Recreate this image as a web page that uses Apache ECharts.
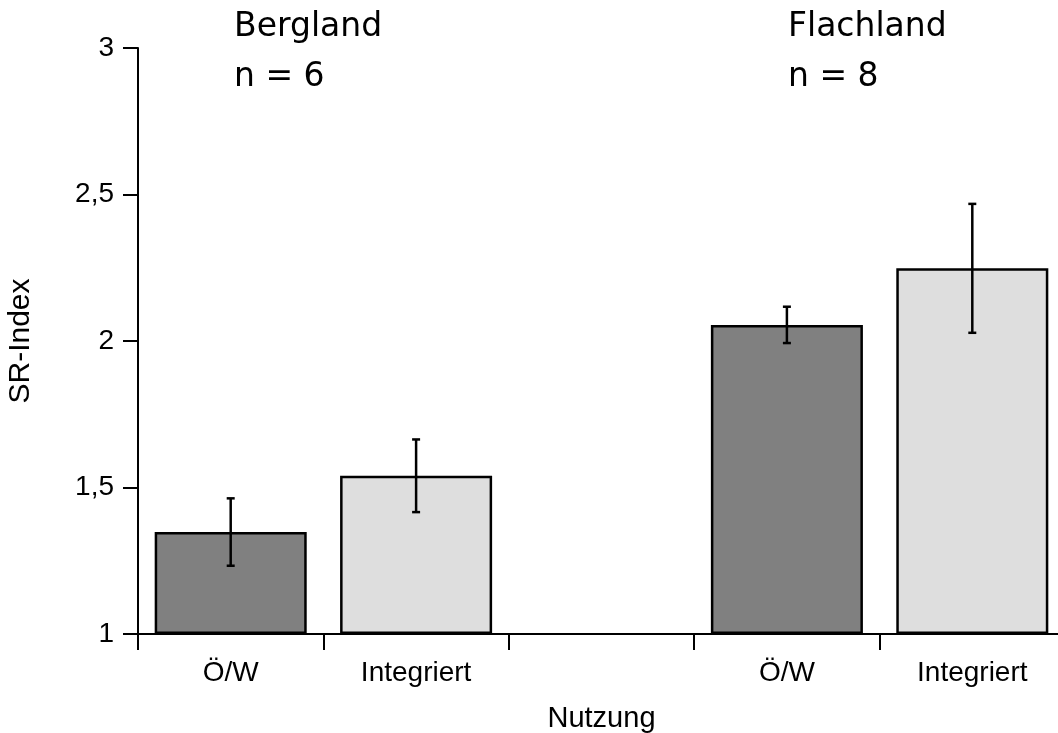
<!DOCTYPE html>
<html>
<head>
<meta charset="utf-8">
<style>
  html, body { margin: 0; padding: 0; background: #fff; }
  #chart { width: 1058px; height: 733px; }
</style>
<script src="https://cdn.jsdelivr.net/npm/echarts@6/dist/echarts.min.js"></script>
</head>
<body>
<div id="chart"></div>
<script>
// Nutzungsformen je Region (leere Kategorie trennt Bergland und Flachland)
const categories = ['Ö/W', 'Integriert', '', 'Ö/W', 'Integriert'];
// Mittelwerte des SR-Index
const means = [1.348, 1.540, null, 2.055, 2.248];
// Fehlerbalken (± um den Mittelwert)
const errors = [0.115, 0.124, null, 0.062, 0.220];
// Füllfarbe je Nutzungsform
const fills = ['#808080', '#dedede', null, '#808080', '#dedede'];
// Achsenbeschriftung
const yTicks = [1, 1.5, 2, 2.5, 3];
// Gruppenbeschriftungen oben
const groups = [
  { name: 'Bergland', n: 'n = 6' },
  { name: 'Flachland', n: 'n = 8' }
];

const chart = echarts.init(document.getElementById('chart'), null, { renderer: 'canvas' });

const barData = means.map((v, i) => v == null ? '-' : {
  value: v,
  itemStyle: { color: fills[i] }
});
const errData = means.map((v, i) => v == null ? [i, '-', '-'] : [i, v - errors[i], v + errors[i]]);

const labelFont = 'Liberation Sans, Arial, sans-serif';
const groupFont = 'DejaVu Sans, Verdana, sans-serif';

chart.setOption({
  animation: false,
  backgroundColor: '#ffffff',
  grid: { left: 138, top: 48, width: 927, bottom: 99, containLabel: false, outerBoundsMode: 'none' },
  xAxis: {
    type: 'category',
    data: categories,
    name: 'Nutzung',
    nameLocation: 'middle',
    nameGap: 70,
    nameTextStyle: { fontFamily: labelFont, fontSize: 29, color: '#000' },
    axisLine: { show: true, lineStyle: { color: '#000', width: 2 } },
    axisTick: { show: true, length: 16, lineStyle: { color: '#000', width: 2 }, alignWithLabel: false },
    axisLabel: { fontFamily: labelFont, fontSize: 28, color: '#000', margin: 25, interval: 0 },
    splitLine: { show: false }
  },
  yAxis: {
    type: 'value',
    min: yTicks[0],
    max: yTicks[yTicks.length - 1],
    interval: yTicks[1] - yTicks[0],
    startValue: yTicks[0],
    name: 'SR-Index',
    nameLocation: 'middle',
    nameGap: 102,
    nameRotate: 90,
    nameTextStyle: { fontFamily: labelFont, fontSize: 30, color: '#000' },
    axisLine: { show: true, lineStyle: { color: '#000', width: 2 } },
    axisTick: { show: true, length: 15, lineStyle: { color: '#000', width: 2 } },
    axisLabel: {
      fontFamily: labelFont, fontSize: 28, color: '#000', margin: 24,
      formatter: v => String(v).replace('.', ',')
    },
    splitLine: { show: false }
  },
  series: [
    {
      type: 'bar',
      data: barData,
      barWidth: '82%',
      clip: true,
      itemStyle: { borderColor: '#000', borderWidth: 2.5 },
      z: 2
    },
    {
      type: 'custom',
      data: errData,
      z: 5,
      encode: { x: 0, y: [1, 2] },
      renderItem: (params, api) => {
        const lo = api.value(1), hi = api.value(2);
        if (isNaN(lo) || isNaN(hi)) return null;
        const x = api.value(0);
        const pLo = api.coord([x, lo]);
        const pHi = api.coord([x, hi]);
        const cap = 4;
        const st = { stroke: '#000', lineWidth: 2.5, fill: null };
        return {
          type: 'group',
          children: [
            { type: 'line', shape: { x1: pLo[0], y1: pLo[1], x2: pHi[0], y2: pHi[1] }, style: st },
            { type: 'line', shape: { x1: pLo[0] - cap, y1: pLo[1], x2: pLo[0] + cap, y2: pLo[1] }, style: st },
            { type: 'line', shape: { x1: pHi[0] - cap, y1: pHi[1], x2: pHi[0] + cap, y2: pHi[1] }, style: st }
          ]
        };
      }
    }
  ],
  graphic: [
    { type: 'text', left: 234, top: 11, style: { text: groups[0].name, font: '33px ' + groupFont, fill: '#000' } },
    { type: 'text', left: 234, top: 61, style: { text: groups[0].n, font: '33px ' + groupFont, fill: '#000' } },
    { type: 'text', left: 788, top: 11, style: { text: groups[1].name, font: '33px ' + groupFont, fill: '#000' } },
    { type: 'text', left: 788, top: 61, style: { text: groups[1].n, font: '33px ' + groupFont, fill: '#000' } }
  ]
});
</script>
</body>
</html>
